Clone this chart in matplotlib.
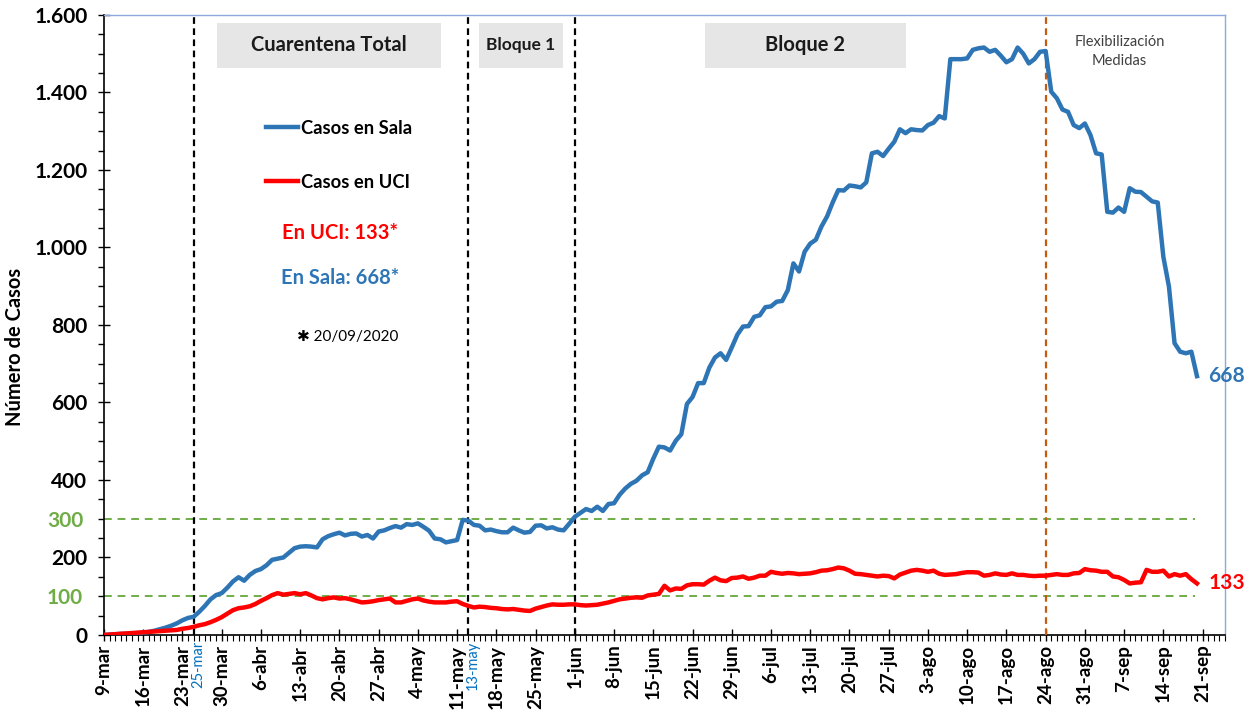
import matplotlib
matplotlib.use("Agg")
import matplotlib.pyplot as plt
from matplotlib.patches import Rectangle
from matplotlib.ticker import MultipleLocator, FuncFormatter
import matplotlib.dates as mdates
import pandas as pd

# daily hospital occupancy, 9-mar-2020 .. 20-sep-2020
start = "2020-03-09"
sala = [
    0, 1, 2, 3, 3, 4, 5, 6, 8, 11,
    15, 19, 24, 30, 38, 44, 47, 60, 75, 92,
    103, 108, 122, 138, 149, 140, 155, 165, 170, 180,
    194, 197, 200, 212, 224, 228, 229, 228, 226, 247,
    255, 260, 264, 257, 261, 262, 254, 258, 249, 267,
    270, 276, 281, 277, 286, 284, 288, 279, 269, 249,
    247, 239, 242, 245, 297, 295, 284, 282, 270, 272,
    268, 265, 265, 277, 270, 264, 266, 282, 283, 275,
    278, 272, 270, 287, 305, 315, 325, 320, 331, 320,
    338, 340, 362, 378, 390, 398, 412, 420, 455, 486,
    484, 476, 501, 518, 596, 614, 650, 650, 690, 716,
    727, 710, 742, 775, 796, 797, 821, 825, 846, 848,
    860, 862, 890, 959, 938, 989, 1010, 1020, 1054, 1080,
    1116, 1148, 1147, 1160, 1158, 1155, 1168, 1243, 1247, 1236,
    1255, 1273, 1305, 1295, 1305, 1303, 1302, 1316, 1322, 1339,
    1333, 1486, 1486, 1486, 1488, 1510, 1514, 1516, 1505, 1510,
    1495, 1478, 1486, 1516, 1500, 1475, 1486, 1505, 1507, 1402,
    1385, 1356, 1350, 1316, 1308, 1320, 1290, 1243, 1240, 1092,
    1090, 1103, 1092, 1153, 1144, 1143, 1131, 1119, 1116, 976,
    899, 753, 731, 727, 731, 668,
]
uci = [
    0, 1, 2, 3, 4, 5, 6, 7, 8, 9,
    10, 11, 12, 13, 16, 18, 21, 25, 28, 33,
    39, 46, 55, 64, 69, 71, 74, 80, 88, 95,
    103, 108, 104, 106, 108, 105, 108, 102, 95, 92,
    95, 97, 94, 95, 92, 88, 84, 85, 87, 90,
    92, 94, 84, 84, 88, 92, 94, 89, 86, 84,
    84, 84, 86, 87, 80, 75, 71, 73, 72, 70,
    69, 67, 66, 67, 65, 63, 62, 68, 72, 76,
    79, 78, 78, 79, 79, 77, 76, 77, 78, 81,
    84, 88, 92, 94, 96, 97, 96, 102, 104, 106,
    127, 115, 120, 119, 128, 131, 131, 130, 140, 148,
    141, 139, 147, 148, 151, 145, 148, 153, 153, 163,
    160, 158, 160, 159, 157, 158, 159, 162, 166, 167,
    170, 174, 172, 166, 158, 157, 155, 153, 151, 153,
    152, 146, 156, 161, 166, 168, 166, 163, 166, 158,
    155, 156, 157, 160, 162, 162, 161, 153, 155, 159,
    156, 155, 159, 155, 155, 153, 152, 153, 153, 155,
    157, 155, 155, 159, 160, 170, 167, 166, 163, 163,
    151, 149, 142, 133, 135, 136, 168, 163, 163, 166,
    151, 157, 153, 157, 144, 133,
]
tick_labels = [
    "9-mar", "16-mar", "23-mar", "30-mar", "6-abr", "13-abr", "20-abr", "27-abr",
    "4-may", "11-may", "18-may", "25-may", "1-jun", "8-jun", "15-jun", "22-jun",
    "29-jun", "6-jul", "13-jul", "20-jul", "27-jul", "3-ago", "10-ago", "17-ago",
    "24-ago", "31-ago", "7-sep", "14-sep", "21-sep",
]
phase_dates = ["2020-03-25", "2020-05-13", "2020-06-01"]
phase_marks = ["25-mar", "13-may"]
flex_date = "2020-08-24"
ref_lines = [100, 300]

BLUE = "#2E75B6"
RED = "#FF0000"
GREEN = "#70AD47"
BROWN = "#C55A11"
GREY_BOX = "#E7E6E6"

plt.rcParams["font.family"] = ["Lato", "DejaVu Sans"]
plt.rcParams["font.weight"] = "bold"

dates = pd.date_range(start, periods=len(sala))
t0 = dates[0]

fig = plt.figure(figsize=(12.5, 7.17), dpi=100)
ax = fig.add_axes([0.0832, 0.1144, 0.8968, 0.8647])

l_sala, = ax.plot(dates, sala, color=BLUE, lw=3.2, label="Casos en Sala", zorder=5)
l_uci, = ax.plot(dates, uci, color=RED, lw=3.2, label="Casos en UCI", zorder=5)

for v in ref_lines:
    ax.axhline(v, xmin=0, xmax=0.973, color=GREEN, lw=1.4, dashes=(4, 3), zorder=2)

for d in phase_dates:
    ax.axvline(pd.Timestamp(d), color="black", lw=1.6, dashes=(3, 2), zorder=3)
ax.axvline(pd.Timestamp(flex_date), color=BROWN, lw=1.6, dashes=(3, 2), zorder=3)

ax.set_ylim(0, 1600)
ax.set_xlim(t0, t0 + pd.Timedelta(days=200))

# y axis: majors every 200, minor every 50, 100/300 labelled in green
ax.yaxis.set_major_locator(MultipleLocator(200))
ax.yaxis.set_minor_locator(MultipleLocator(50))
ax.yaxis.set_major_formatter(FuncFormatter(lambda v, p: f"{int(v):,}".replace(",", ".")))
ax.yaxis.set_minor_formatter(FuncFormatter(lambda v, p: f"{int(v)}" if int(round(v)) in ref_lines else ""))
ax.tick_params(axis="y", which="major", direction="inout", length=8, width=1, labelsize=15, pad=8)
ax.tick_params(axis="y", which="minor", direction="out", length=4, width=1, labelsize=15, pad=11,
               labelcolor=GREEN)

# x axis: weekly labels, daily minor ticks
ax.set_xticks(pd.date_range(start, periods=len(tick_labels), freq="7D"))
ax.set_xticklabels(tick_labels, rotation=90)
ax.xaxis.set_minor_locator(mdates.DayLocator())
ax.tick_params(axis="x", which="major", direction="inout", length=8, width=1, labelsize=13.5, pad=3)
ax.tick_params(axis="x", which="minor", direction="out", length=4, width=0.8)

ax.set_ylabel("Número de Casos", fontsize=14.5, fontweight="bold")
ax.yaxis.set_label_coords(-0.0705, 0.465)

for s in ["left", "bottom"]:
    ax.spines[s].set_color("black")
    ax.spines[s].set_linewidth(1.2)
for s in ["top", "right"]:
    ax.spines[s].set_color("#8EA9DB")
    ax.spines[s].set_linewidth(1.0)

# phase boxes
boxes = [(0.101, 0.200, "Cuarentena Total", 14.5), (0.3345, 0.075, "Bloque 1", 12.5),
         (0.536, 0.179, "Bloque 2", 14.5)]
for x0, w, txt, fs in boxes:
    ax.add_patch(Rectangle((x0, 0.9145), w, 0.0726, transform=ax.transAxes,
                           facecolor=GREY_BOX, edgecolor="none", zorder=4))
    ax.text(x0 + w / 2, 0.9145 + 0.0363, txt, transform=ax.transAxes, ha="center",
            va="center", fontsize=fs, color="#1a1a1a", zorder=6)

ax.text(0.906, 0.941, "Flexibilización\nMedidas", transform=ax.transAxes, ha="center",
        va="center", fontsize=10.5, fontweight="normal", color="#404040", linespacing=1.5)

# blue date marks under the phase lines
for d, lab in zip(phase_dates, phase_marks):
    ax.text(pd.Timestamp(d) + pd.Timedelta(hours=18), -0.01, lab,
            transform=ax.get_xaxis_transform(), rotation=90, ha="center", va="top",
            fontsize=10.5, fontweight="normal", color="#0070C0")

leg = ax.legend(handles=[l_sala, l_uci], loc="upper left", bbox_to_anchor=(0.13, 0.858),
                frameon=False, fontsize=13.2, handlelength=1.75, handletextpad=0.15,
                labelspacing=2.02)

ax.text(0.2105, 0.648, f"En UCI: {uci[-1]}*", transform=ax.transAxes, ha="center",
        va="center", fontsize=14.5, color=RED)
ax.text(0.2105, 0.576, f"En Sala: {sala[-1]}*", transform=ax.transAxes, ha="center",
        va="center", fontsize=14.5, color=BLUE)
ax.text(0.217, 0.481, "✱ " + dates[-1].strftime("%d/%m/%Y"), transform=ax.transAxes,
        ha="center", va="center", fontsize=11, fontweight="normal", color="black")

ax.text(dates[-1] + pd.Timedelta(days=2), sala[-1], str(sala[-1]), ha="left", va="center",
        fontsize=15, color=BLUE)
ax.text(dates[-1] + pd.Timedelta(days=2), uci[-1], str(uci[-1]), ha="left", va="center",
        fontsize=15, color=RED)

fig.savefig("out.png", dpi=100)
